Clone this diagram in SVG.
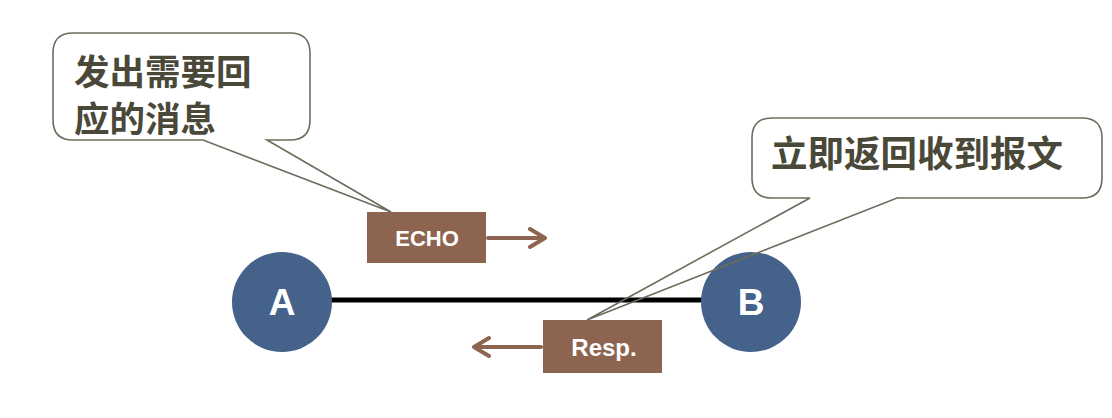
<svg xmlns="http://www.w3.org/2000/svg" width="1112" height="418" viewBox="0 0 1112 418">
<style>
.callout{fill:none;stroke:#6e6c5c;stroke-width:1.6;stroke-linejoin:miter}
.ctext{font-family:"Noto Sans CJK SC","Liberation Sans",sans-serif;font-weight:bold;font-size:36.5px;fill:#4a4838}
.node{fill:#45628a}
.ntext{font-family:"Liberation Sans",Arial,sans-serif;font-weight:bold;font-size:37px;fill:#ffffff;text-anchor:middle}
.msg{fill:#8c6450}
.mtext{font-family:"Liberation Sans",Arial,sans-serif;font-weight:bold;fill:#ffffff;text-anchor:middle}
.arr{fill:none;stroke:#8c6450;stroke-width:4;stroke-linecap:round;stroke-linejoin:round}
</style>
<rect width="1112" height="418" fill="#ffffff"/>
<g id="connectors">
<line x1="320" y1="300" x2="712" y2="300" stroke="#000000" stroke-width="5"/>
<path class="arr" d="M488 238 H544 M530 229 L545 238 L530 247"/>
<path class="arr" d="M541 347 H475 M489 338 L474 347 L489 356"/>
</g>
<g id="nodeA">
<ellipse class="node" cx="282" cy="302" rx="50" ry="50"/>
<text class="ntext" x="282" y="315">A</text>
</g>
<g id="nodeB">
<ellipse class="node" cx="751" cy="302" rx="50" ry="50"/>
<text class="ntext" x="751" y="315">B</text>
</g>
<g id="echo">
<rect class="msg" x="367" y="212" width="119" height="51"/>
<text class="mtext" x="427" y="246" font-size="22">ECHO</text>
</g>
<g id="resp">
<rect class="msg" x="543" y="320" width="119" height="53"/>
<text class="mtext" x="604" y="356" font-size="24">Resp.</text>
</g>
<g id="callout1">
<path class="callout" d="M73 33 H290 Q310 33 310 53 V120 Q310 140 290 140 H267 L391 212 L203 140 H73 Q53 140 53 120 V53 Q53 33 73 33 Z"/>
<text class="ctext" x="74" y="85" style="font-size:35.5px">发出需要回</text>
<text class="ctext" x="74" y="132" style="font-size:35.5px">应的消息</text>
</g>
<g id="callout2">
<path class="callout" d="M772 118 H1082 Q1102 118 1102 138 V178 Q1102 198 1082 198 H897 L587 320 L810 198 H772 Q752 198 752 178 V138 Q752 118 772 118 Z"/>
<text class="ctext" x="771" y="167">立即返回收到报文</text>
</g>
</svg>
